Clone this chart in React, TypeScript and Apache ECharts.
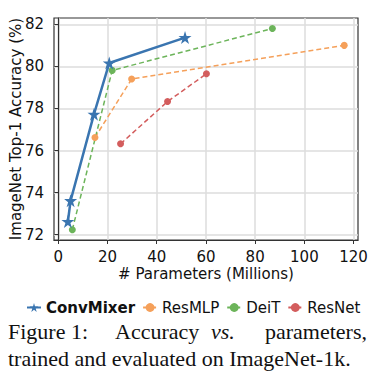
import React, { useEffect, useRef } from "react";
import * as echarts from "echarts";

// ---- data ----
const convMixerParams = [3.9, 5.0, 14.5, 20.7, 51.5];
const convMixerAcc = [72.63, 73.62, 77.73, 80.16, 81.37];
const resMLPParams = [14.9, 29.8, 116.2];
const resMLPAcc = [76.62, 79.4, 81.0];
const deitParams = [5.7, 21.9, 87.0];
const deitAcc = [72.24, 79.81, 81.8];
const resNetParams = [25.3, 44.4, 60.2];
const resNetAcc = [76.32, 78.33, 79.65];

const xTicks = [0, 20, 40, 60, 80, 100, 120];
const yTicks = [72, 74, 76, 78, 80, 82];

const seriesNames = ["ConvMixer", "ResMLP", "DeiT", "ResNet"];
const seriesColors = ["#3a75b0", "#f5a05a", "#6cb45a", "#d35d5d"];

const captionLine1 = ["Figure 1:", "Accuracy", "vs.", "parameters,"];
const captionLine2 = "trained and evaluated on ImageNet-1k.";

const STAR =
  "path://M50 0 L61.23 34.55 L97.55 34.55 L68.17 55.9 L79.39 90.45 L50 69.1 L20.61 90.45 L31.83 55.9 L2.45 34.55 L38.77 34.55 Z";

const zip = (xs: number[], ys: number[]) => xs.map((x, i) => [x, ys[i]]);

const SANS = '"DejaVu Sans", sans-serif';
const SERIF = '"Liberation Serif", "Times New Roman", serif';

export default function App() {
  const ref = useRef<HTMLDivElement>(null);
  useEffect(() => {
    if (!ref.current) return;
    const chart = echarts.init(ref.current, undefined, { renderer: "svg" });
    const dashed = (name: string, idx: number, xs: number[], ys: number[]) => ({
      name,
      type: "line",
      data: zip(xs, ys),
      symbol: "circle",
      symbolSize: 7,
      itemStyle: { color: seriesColors[idx] },
      lineStyle: { color: seriesColors[idx], width: 1.5, type: [5, 3] },
      z: 3,
    });
    chart.setOption({
      animation: false,
      backgroundColor: "#ffffff",
      grid: {
        left: 54,
        top: 18,
        width: 304,
        height: 222,
        outerBoundsMode: "none",
        containLabel: false,
        show: true,
        borderColor: "#333333",
        borderWidth: 1.2,
        backgroundColor: "#ffffff",
      },
      xAxis: {
        type: "value",
        min: -1.75,
        max: 121.8,
        name: "# Parameters (Millions)",
        nameLocation: "middle",
        nameGap: 26,
        nameMoveOverlap: false,
        nameTextStyle: { fontSize: 15, color: "#111", fontFamily: SANS },
        axisLine: { show: true, lineStyle: { color: "#333", width: 1.2 } },
        axisTick: { show: true, length: 4, inside: false, customValues: xTicks, lineStyle: { color: "#333" } },
        axisLabel: { customValues: xTicks, fontSize: 15, color: "#111", fontFamily: SANS, margin: 9 },
        splitLine: { show: true, lineStyle: { color: "#dcdcdc", width: 1.5 } },
      },
      yAxis: {
        type: "value",
        min: 71.75,
        max: 82.3,
        name: "ImageNet Top-1 Accuracy (%)",
        nameLocation: "middle",
        nameGap: 31,
        nameMoveOverlap: false,
        nameTextStyle: { fontSize: 15, color: "#111", fontFamily: SANS },
        axisLine: { show: true, lineStyle: { color: "#333", width: 1.2 } },
        axisTick: { show: true, length: 4, inside: false, customValues: yTicks, lineStyle: { color: "#333" } },
        axisLabel: { customValues: yTicks, fontSize: 15, color: "#111", fontFamily: SANS, margin: 10 },
        splitLine: { show: true, lineStyle: { color: "#dcdcdc", width: 1.5 } },
      },
      legend: {
        left: 21,
        top: 295,
        itemWidth: 14,
        itemHeight: 11,
        itemGap: 7,
        textStyle: { fontSize: 15, color: "#111", fontFamily: SANS },
        data: [
          { name: seriesNames[0], textStyle: { fontWeight: "bold" } },
          { name: seriesNames[1] },
          { name: seriesNames[2] },
          { name: seriesNames[3] },
        ],
      },
      series: [
        {
          name: seriesNames[0],
          type: "line",
          data: zip(convMixerParams, convMixerAcc),
          symbol: STAR,
          symbolSize: 13,
          itemStyle: { color: seriesColors[0] },
          lineStyle: { color: seriesColors[0], width: 2.5 },
          z: 5,
        },
        dashed(seriesNames[1], 1, resMLPParams, resMLPAcc),
        dashed(seriesNames[2], 2, deitParams, deitAcc),
        dashed(seriesNames[3], 3, resNetParams, resNetAcc),
      ],
      graphic: [
        {
          type: "text",
          left: 8,
          top: 320,
          style: { text: captionLine1[0], font: `22px ${SERIF}`, fill: "#111" },
        },
        {
          type: "text",
          left: 115,
          top: 320,
          style: { text: captionLine1[1], font: `22px ${SERIF}`, fill: "#111" },
        },
        {
          type: "text",
          left: 211,
          top: 320,
          style: { text: captionLine1[2], font: `italic 22px ${SERIF}`, fill: "#111" },
        },
        {
          type: "text",
          right: 22,
          top: 320,
          style: { text: captionLine1[3], font: `22px ${SERIF}`, fill: "#111" },
        },
        {
          type: "text",
          left: 8,
          top: 347,
          style: { text: captionLine2, font: `22px ${SERIF}`, fill: "#111" },
        },
      ],
    });
    return () => chart.dispose();
  }, []);
  return (
    <div
      ref={ref}
      style={{ position: "absolute", left: 0, top: 0, width: 389, height: 371 }}
    />
  );
}
